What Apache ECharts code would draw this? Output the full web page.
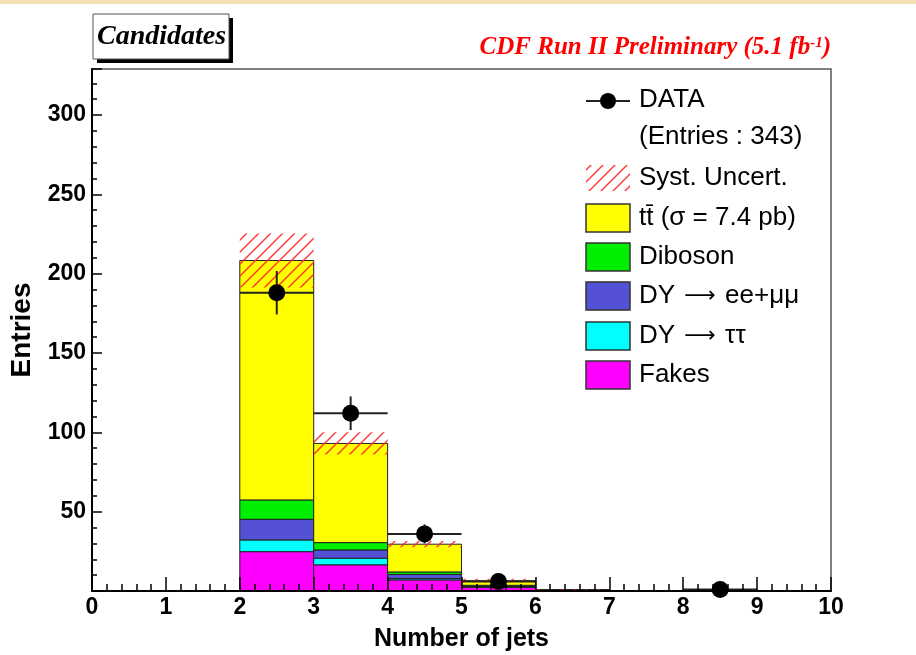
<!DOCTYPE html>
<html><head><meta charset="utf-8">
<script src="https://cdn.jsdelivr.net/npm/echarts@6/dist/echarts.min.js"></script>
<style>html,body{margin:0;padding:0;background:#fff;} #c{width:916px;height:655px;}</style>
</head><body><div id="c"></div>
<script>
// ---- data ----
const binLow = [0, 1, 2, 3, 4, 5, 6, 7, 8, 9];
const binWidth = 1;
const fakes    = [0, 0, 24.8, 16.5, 7.0, 2.3, 0.5, 0, 0, 0];
const dyTauTau = [0, 0, 7.4, 4.2, 0.8, 0.3, 0.05, 0, 0, 0];
const dyEeMuMu = [0, 0, 13.0, 5.2, 2.6, 0.5, 0.05, 0, 0, 0];
const diboson  = [0, 0, 12.2, 4.6, 1.6, 0.5, 0.1, 0, 0, 0];
const ttbar    = [0, 0, 150.9, 62.5, 17.5, 2.9, 0.1, 0, 0, 0];
const systUnc  = [0, 0, 17, 7, 2, 1.2, 0.3, 0, 0, 0];
const dataCounts = [0, 0, 188, 112, 36, 6, 0, 0, 1, 0];
const dataErr    = [0, 0, 13.7, 10.6, 6.0, 2.4, 0, 0, 1.0, 0];
const xTickLabels = ['0','1','2','3','4','5','6','7','8','9','10'];
const yTickLabels = ['50','100','150','200','250','300'];
const entries = 343;

const FONT = "'Liberation Sans', Arial, Helvetica, sans-serif";
const SERIF = "'Liberation Serif', 'Times New Roman', serif";
const ARROWFONT = "'DejaVu Sans', sans-serif";

const components = [
  { name: 'Fakes', rich: 'Fakes', values: fakes, color: '#ff00ff' },
  { name: 'DY \u2192 \u03c4\u03c4', rich: 'DY {ar|\u27f6} \u03c4\u03c4', values: dyTauTau, color: '#00ffff' },
  { name: 'DY \u2192 ee+\u03bc\u03bc', rich: 'DY {ar|\u27f6} ee+\u03bc\u03bc', values: dyEeMuMu, color: '#5451d6' },
  { name: 'Diboson', rich: 'Diboson', values: diboson, color: '#00ee00' },
  { name: 't\u0074\u0304 (\u03c3 = 7.4 pb)', rich: 't\u0074\u0304 (\u03c3 = 7.4 pb)', values: ttbar, color: '#ffff00' }
];

// hatch pattern
function makeHatch() {
  const s = 12;
  const cv = document.createElement('canvas');
  cv.width = s; cv.height = s;
  const ctx = cv.getContext('2d');
  ctx.strokeStyle = 'rgba(255,40,40,0.9)';
  ctx.lineWidth = 1.5;
  ctx.beginPath();
  ctx.moveTo(0, s); ctx.lineTo(s, 0);
  ctx.moveTo(-2, 2); ctx.lineTo(2, -2);
  ctx.moveTo(s - 2, s + 2); ctx.lineTo(s + 2, s - 2);
  ctx.stroke();
  return cv;
}
const hatch = makeHatch();

function rectRender(fill, stroke) {
  return function (params, api) {
    const p0 = api.coord([api.value(0), api.value(3)]);
    const p1 = api.coord([api.value(1), api.value(2)]);
    return {
      type: 'rect',
      shape: { x: p0[0], y: p0[1], width: p1[0] - p0[0], height: p1[1] - p0[1] },
      style: { fill: fill, stroke: stroke, lineWidth: stroke ? 1 : 0 }
    };
  };
}

const series = [];
const cum = binLow.map(() => 0);
components.forEach((c, k) => {
  const d = [];
  binLow.forEach((lo, i) => {
    const v = c.values[i];
    if (v > 0) d.push([lo, lo + binWidth, cum[i], cum[i] + v]);
    cum[i] += v;
  });
  series.push({
    type: 'custom', name: c.name, renderItem: rectRender(c.color, '#222'),
    data: d, z: 2 + k, clip: false
  });
});
// systematic band
const bandData = [];
binLow.forEach((lo, i) => {
  if (systUnc[i] > 0) bandData.push([lo, lo + binWidth, Math.max(0, cum[i] - systUnc[i]), cum[i] + systUnc[i]]);
});
series.push({
  type: 'custom', name: 'Syst. Uncert.', renderItem: rectRender({ image: hatch, repeat: 'repeat' }, null),
  data: bandData, z: 10
});
// data error bars
const errData = [];
const ptData = [];
binLow.forEach((lo, i) => {
  if (dataCounts[i] > 0) {
    errData.push([lo, lo + binWidth, dataCounts[i], dataErr[i]]);
    ptData.push([lo + binWidth / 2, dataCounts[i]]);
  }
});
series.push({
  type: 'custom', name: 'DATA err', z: 11, clip: false,
  renderItem: function (params, api) {
    const lo = api.value(0), hi = api.value(1), y = api.value(2), e = api.value(3);
    const a = api.coord([lo, y]), b = api.coord([hi, y]);
    const mid = (lo + hi) / 2;
    const t = api.coord([mid, y + e]), u = api.coord([mid, y - e]);
    const st = { stroke: '#222', lineWidth: 2 };
    return {
      type: 'group', children: [
        { type: 'line', shape: { x1: a[0], y1: a[1], x2: b[0], y2: b[1] }, style: st },
        { type: 'line', shape: { x1: t[0], y1: t[1], x2: u[0], y2: u[1] }, style: st }
      ]
    };
  },
  data: errData
});
series.push({
  type: 'scatter', name: 'DATA', data: ptData, symbol: 'circle', symbolSize: 17,
  itemStyle: { color: '#000', opacity: 1 }, z: 12, clip: false, silent: true
});

// legend graphics
const legX = 586, legW = 44, txtX = 639;
const legRows = [
  { label: 'DATA', y: 100, kind: 'data' },
  { label: '(Entries : ' + entries + ')', y: 137, kind: 'none' },
  { label: 'Syst. Uncert.', y: 178, kind: 'hatch' },
  { label: components[4].rich, y: 218, kind: 'box', color: components[4].color },
  { label: components[3].rich, y: 257, kind: 'box', color: components[3].color },
  { label: components[2].rich, y: 296, kind: 'box', color: components[2].color },
  { label: components[1].rich, y: 336, kind: 'box', color: components[1].color },
  { label: components[0].rich, y: 375, kind: 'box', color: components[0].color }
];
const graphics = [
  { type: 'rect', left: 0, top: 0, shape: { width: 916, height: 4 }, style: { fill: '#f5dfb6' }, silent: true },
  // Candidates box with shadow
  { type: 'rect', shape: { x: 97, y: 18, width: 136, height: 45 }, style: { fill: '#000' } },
  { type: 'rect', shape: { x: 93, y: 14, width: 136, height: 45 }, style: { fill: '#fff', stroke: '#555', lineWidth: 1 } },
  { type: 'text', x: 97, y: 37, style: { text: 'Candidates', font: 'italic bold 28px ' + SERIF, fill: '#000', verticalAlign: 'middle', align: 'left' } },
  { type: 'text', x: 831, y: 48, style: {
      text: '{a|CDF Run II Preliminary (5.1 fb}{s|-1}{a|)}', align: 'right', verticalAlign: 'middle',
      rich: { a: { font: 'italic bold 25px ' + SERIF, fill: '#ff0000' }, s: { font: 'italic bold 15px ' + SERIF, fill: '#ff0000', verticalAlign: 'top', padding: [0, 0, 10, 0] } }
  } }
];
legRows.forEach(r => {
  if (r.kind === 'data') {
    graphics.push({ type: 'line', shape: { x1: legX, y1: r.y + 1, x2: legX + legW, y2: r.y + 1 }, style: { stroke: '#222', lineWidth: 2 } });
    graphics.push({ type: 'circle', shape: { cx: legX + legW / 2, cy: r.y + 1, r: 8 }, style: { fill: '#000' } });
  } else if (r.kind === 'hatch') {
    graphics.push({ type: 'rect', shape: { x: legX, y: r.y - 13, width: legW, height: 26 }, style: { fill: { image: hatch, repeat: 'repeat' } } });
  } else if (r.kind === 'box') {
    graphics.push({ type: 'rect', shape: { x: legX, y: r.y - 14, width: legW, height: 28 }, style: { fill: r.color, stroke: '#333', lineWidth: 1.5 } });
  }
  graphics.push({ type: 'text', x: txtX, y: r.y, style: {
    text: r.label, font: '26px ' + FONT, fill: '#000', verticalAlign: 'middle', align: 'left',
    rich: { ar: { font: '22px ' + ARROWFONT, fill: '#000', padding: [0, 2, 0, 2] } }
  } });
});

const chart = echarts.init(document.getElementById('c'), null, { renderer: 'canvas' });
chart.setOption({
  animation: false,
  backgroundColor: '#fff',
  grid: { left: 92, right: 85, top: 69, bottom: 64, show: true, borderColor: '#555', borderWidth: 1.5,
    backgroundColor: '#fff', containLabel: false, outerBoundsMode: 'none' },
  xAxis: {
    type: 'value', min: 0, max: 10, interval: 1,
    name: 'Number of jets', nameLocation: 'middle', nameGap: 36,
    nameTextStyle: { fontFamily: FONT, fontWeight: 'bold', fontSize: 25, color: '#000' },
    axisLine: { show: true, onZero: false, lineStyle: { color: '#000', width: 2 } },
    axisTick: { show: true, inside: true, length: 14, lineStyle: { color: '#000', width: 1.5 } },
    minorTick: { show: true, splitNumber: 5, length: 7, lineStyle: { color: '#000', width: 1.5 } },
    splitLine: { show: false },
    axisLabel: { fontFamily: FONT, fontWeight: 'bold', fontSize: 23, color: '#000', margin: 5,
      formatter: v => xTickLabels[Math.round(v)] },
    z: 20
  },
  yAxis: {
    type: 'value', min: 0, max: 329, interval: 50,
    name: 'Entries', nameLocation: 'middle', nameGap: 38, nameRotate: 90,
    nameTextStyle: { fontFamily: FONT, fontWeight: 'bold', fontSize: 28, color: '#000' },
    axisLine: { show: true, lineStyle: { color: '#000', width: 2 } },
    axisTick: { show: true, inside: true, length: 10, lineStyle: { color: '#000', width: 1.5 } },
    minorTick: { show: true, splitNumber: 5, length: 5, lineStyle: { color: '#000', width: 1.5 } },
    splitLine: { show: false },
    axisLabel: { fontFamily: FONT, fontWeight: 'bold', fontSize: 23, color: '#000', margin: 6,
      formatter: v => { const i = Math.round(v / 50) - 1; return (i >= 0 && i < yTickLabels.length) ? yTickLabels[i] : ''; } },
    z: 20
  },
  series: series,
  graphic: graphics
});
</script></body></html>
